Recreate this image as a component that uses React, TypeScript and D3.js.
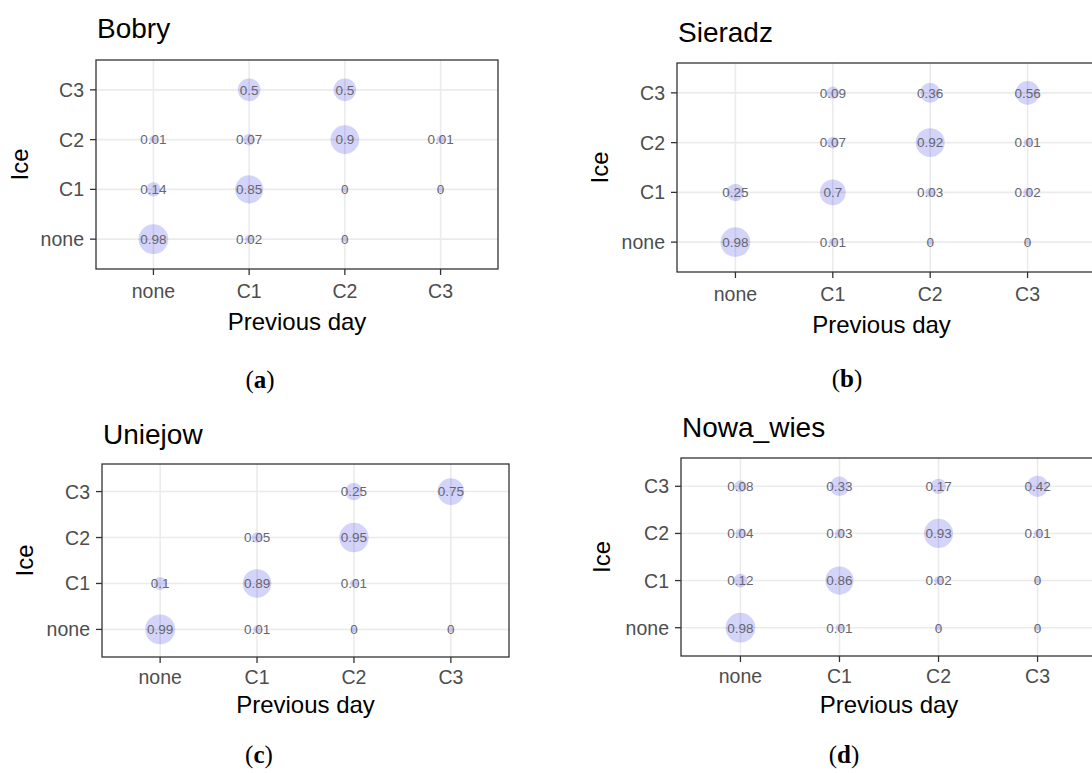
import React from "react";
import * as d3 from "d3";

// Categories
const prevDayCats = ["none", "C1", "C2", "C3"];
const iceCats = ["none", "C1", "C2", "C3"];

// Values: rows = Ice (none, C1, C2, C3), columns = Previous day (none, C1, C2, C3); null = not shown
const bobryValues: (number | null)[][] = [
  [0.98, 0.02, 0, null],
  [0.14, 0.85, 0, 0],
  [0.01, 0.07, 0.9, 0.01],
  [null, 0.5, 0.5, null],
];
const sieradzValues: (number | null)[][] = [
  [0.98, 0.01, 0, 0],
  [0.25, 0.7, 0.03, 0.02],
  [null, 0.07, 0.92, 0.01],
  [null, 0.09, 0.36, 0.56],
];
const uniejowValues: (number | null)[][] = [
  [0.99, 0.01, 0, 0],
  [0.1, 0.89, 0.01, null],
  [null, 0.05, 0.95, null],
  [null, null, 0.25, 0.75],
];
const nowaWiesValues: (number | null)[][] = [
  [0.98, 0.01, 0, 0],
  [0.12, 0.86, 0.02, 0],
  [0.04, 0.03, 0.93, 0.01],
  [0.08, 0.33, 0.17, 0.42],
];

const stationNames = ["Bobry", "Sieradz", "Uniejow", "Nowa_wies"];
const captionLetters = ["a", "b", "c", "d"];

const W = 1092;
const H = 773;
const SANS = "'Liberation Sans', Arial, Helvetica, sans-serif";
const SERIF = "'Liberation Serif', 'Times New Roman', serif";

interface PanelLayout {
  left: number;
  right: number;
  top: number;
  bottom: number;
  borderRight: number;
  titleX: number;
  titleY: number;
  iceX: number;
  capX: number;
  capY: number;
  xTickY: number;
  xTitleY: number;
}

const layouts: PanelLayout[] = [
  { left: 96, right: 498, top: 60, bottom: 269, borderRight: 498, titleX: 97, titleY: 38, iceX: 28, capX: 260, capY: 388, xTickY: 298, xTitleY: 330 },
  { left: 677, right: 1086, top: 63, bottom: 272, borderRight: 1110, titleX: 678, titleY: 42, iceX: 608, capX: 847, capY: 387, xTickY: 301, xTitleY: 333 },
  { left: 102, right: 509, top: 464, bottom: 657, borderRight: 509, titleX: 103, titleY: 444, iceX: 33, capX: 259, capY: 763, xTickY: 684, xTitleY: 713 },
  { left: 681, right: 1097, top: 458, bottom: 656, borderRight: 1110, titleX: 682, titleY: 437, iceX: 610, capX: 844, capY: 763, xTickY: 683, xTitleY: 713 },
];

const allValues = [bobryValues, sieradzValues, uniejowValues, nowaWiesValues];

const rScale = d3.scaleSqrt().domain([0, 1]).range([2.5, 15]);

function Panel({ idx }: { idx: number }) {
  const L = layouts[idx];
  const values = allValues[idx];
  const x = d3.scalePoint<string>().domain(prevDayCats).range([L.left, L.right]).padding(0.6);
  const y = d3.scalePoint<string>().domain(iceCats).range([L.bottom, L.top]).padding(0.6);
  const clipId = `clip${idx}`;
  const cells: { px: string; iy: string; v: number }[] = [];
  values.forEach((row, i) =>
    row.forEach((v, j) => {
      if (v !== null) cells.push({ px: prevDayCats[j], iy: iceCats[i], v });
    })
  );
  const midX = (L.left + L.right) / 2;
  const midY = (L.top + L.bottom) / 2;
  const br = Math.min(L.borderRight, W + 5);
  return (
    <g>
      <defs>
        <clipPath id={clipId}>
          <rect x={L.left} y={L.top} width={br - L.left} height={L.bottom - L.top} />
        </clipPath>
      </defs>
      <text x={L.titleX} y={L.titleY} fontSize={28} fontFamily={SANS} fill="#000">
        {stationNames[idx]}
      </text>
      <rect x={L.left} y={L.top} width={br - L.left} height={L.bottom - L.top} fill="#fff" />
      <g clipPath={`url(#${clipId})`}>
        {prevDayCats.map((c) => (
          <line key={"gx" + c} x1={x(c)} x2={x(c)} y1={L.top} y2={L.bottom} stroke="#ebebeb" strokeWidth={1.6} />
        ))}
        {iceCats.map((c) => (
          <line key={"gy" + c} x1={L.left} x2={br} y1={y(c)} y2={y(c)} stroke="#ebebeb" strokeWidth={1.6} />
        ))}
        {cells.map((d, k) => (
          <circle key={"c" + k} cx={x(d.px)} cy={y(d.iy)} r={rScale(d.v)} fill="#1a1ae6" fillOpacity={0.19} />
        ))}
        {cells.map((d, k) => (
          <text
            key={"t" + k}
            x={x(d.px)}
            y={y(d.iy)}
            dy="0.36em"
            textAnchor="middle"
            fontSize={13.5}
            fontFamily={SANS}
            fill="#666670"
          >
            {String(d.v)}
          </text>
        ))}
      </g>
      <rect x={L.left} y={L.top} width={br - L.left} height={L.bottom - L.top} fill="none" stroke="#333" strokeWidth={1.3} />
      {iceCats.map((c) => (
        <g key={"ty" + c}>
          <line x1={L.left - 6} x2={L.left} y1={y(c)} y2={y(c)} stroke="#333" strokeWidth={1.3} />
          <text x={L.left - 12} y={y(c)} dy="0.36em" textAnchor="end" fontSize={19.5} fontFamily={SANS} fill="#4d4d4d">
            {c}
          </text>
        </g>
      ))}
      {prevDayCats.map((c) => (
        <g key={"tx" + c}>
          <line x1={x(c)} x2={x(c)} y1={L.bottom} y2={L.bottom + 6} stroke="#333" strokeWidth={1.3} />
          <text x={x(c)} y={L.xTickY} textAnchor="middle" fontSize={19.5} fontFamily={SANS} fill="#4d4d4d">
            {c}
          </text>
        </g>
      ))}
      <text x={midX} y={L.xTitleY} textAnchor="middle" fontSize={24} fontFamily={SANS} fill="#000">
        Previous day
      </text>
      <text
        transform={`translate(${L.iceX},${midY}) rotate(-90)`}
        textAnchor="middle"
        fontSize={24}
        fontFamily={SANS}
        fill="#000"
      >
        Ice
      </text>
      <text x={L.capX} y={L.capY} textAnchor="middle" fontSize={25} fontFamily={SERIF} fill="#000">
        (<tspan fontWeight="bold">{captionLetters[idx]}</tspan>)
      </text>
    </g>
  );
}

export default function App() {
  return (
    <svg
      width={W}
      height={H}
      viewBox={`0 0 ${W} ${H}`}
      style={{ position: "absolute", left: 0, top: 0, background: "#fff", display: "block" }}
    >
      <rect x={0} y={0} width={W} height={H} fill="#fff" />
      {layouts.map((_, i) => (
        <Panel key={i} idx={i} />
      ))}
    </svg>
  );
}
